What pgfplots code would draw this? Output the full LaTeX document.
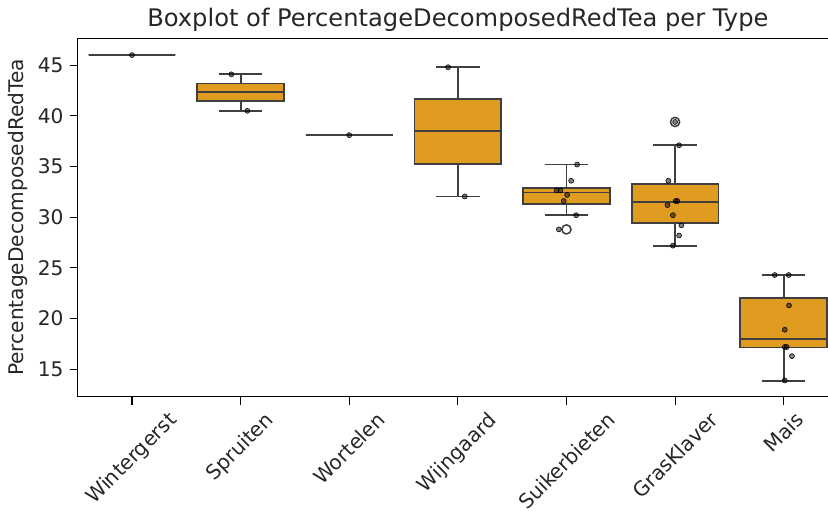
\documentclass[border=0pt]{standalone}
\usepackage{pgfplots}
\pgfplotsset{compat=1.18}
\usepackage{fontspec}
\setmainfont{DejaVu Sans}
\usepackage{graphicx}
\definecolor{boxorange}{HTML}{DF9C20}
\definecolor{boxgray}{HTML}{3F3F3F}
\pgfplotsset{
  wh/.style={draw=boxgray, line width=1.3pt, mark=none, unbounded coords=jump},
  bx/.style={draw=boxgray, fill=boxorange, line width=1.3pt, mark=none},
  md/.style={draw=boxgray, line width=1.3pt, mark=none},
  outl/.style={only marks, mark=*, mark size=3.3pt, mark options={draw=boxgray, fill=white, line width=1.1pt}},
  dots/.style={only marks, mark=*, mark size=1.8pt, mark options={draw=none, fill=black, fill opacity=0.5}},
}
\begin{document}
\begin{tikzpicture}
\begin{axis}[
  name=ax, scale only axis, width=547.4pt, height=258pt,
  xmin=-0.5, xmax=6.5, ymin=12.3, ymax=47.65,
  axis line style={line width=1.1pt},
  tick align=outside, tick pos=left,
  major tick length=5.8pt,
  tick style={black, line width=0.8pt},
  xtick={0,1,2,3,4,5,6},
  xticklabels={\rotatebox{45}{Wintergerst},\rotatebox{45}{Spruiten},\rotatebox{45}{Wortelen},\rotatebox{45}{Wijngaard},\rotatebox{45}{Suikerbieten},\rotatebox{45}{GrasKlaver},\rotatebox{45}{Mais}},
  ytick={15,20,25,30,35,40,45},
  /pgf/number format/assume math mode=true,
  every tick label/.append style={font=\fontsize{14.5}{17}\selectfont, text=black!85},
  xticklabel style={anchor=north, inner sep=0pt, yshift=-4pt},
  yticklabel style={anchor=east, inner sep=0pt, xshift=-4.3pt},
  title={Boxplot of PercentageDecomposedRedTea per Type},
  title style={font=\fontsize{17.4}{20}\selectfont, at={(0.5,1)}, anchor=base, yshift=2.4pt, text=black!85},
  ylabel={PercentageDecomposedRedTea},
  ylabel style={at={(axis description cs:-0.0791,0.5)}, anchor=center, font=\fontsize{14.5}{17}\selectfont, text=black!85},
]
% whiskers and caps: cap(upper) | whisker(upper) | whisker(lower) | cap(lower)
\addplot[wh] coordinates {(-0.2,46.0) (0.2,46.0) (0,nan) (0,46.0) (0,46.0) (0,nan) (0,46.0) (0,46.0) (0,nan) (-0.2,46.0) (0.2,46.0)};
\addplot[wh] coordinates {(0.8,44.1) (1.2,44.1) (1,nan) (1,44.1) (1,43.2) (1,nan) (1,41.5) (1,40.5) (1,nan) (0.8,40.5) (1.2,40.5)};
\addplot[wh] coordinates {(1.8,38.1) (2.2,38.1) (2,nan) (2,38.1) (2,38.1) (2,nan) (2,38.1) (2,38.1) (2,nan) (1.8,38.1) (2.2,38.1)};
\addplot[wh] coordinates {(2.8,44.8) (3.2,44.8) (3,nan) (3,44.8) (3,41.65) (3,nan) (3,35.25) (3,32.05) (3,nan) (2.8,32.05) (3.2,32.05)};
\addplot[wh] coordinates {(3.8,35.2) (4.2,35.2) (4,nan) (4,35.2) (4,32.9) (4,nan) (4,31.3) (4,30.2) (4,nan) (3.8,30.2) (4.2,30.2)};
\addplot[wh] coordinates {(4.8,37.1) (5.2,37.1) (5,nan) (5,37.1) (5,33.25) (5,nan) (5,29.45) (5,27.15) (5,nan) (4.8,27.15) (5.2,27.15)};
\addplot[wh] coordinates {(5.8,24.3) (6.2,24.3) (6,nan) (6,24.3) (6,22.0) (6,nan) (6,17.15) (6,13.85) (6,nan) (5.8,13.85) (6.2,13.85)};
% boxes (lower quartile to upper quartile)
\addplot[bx] coordinates {(-0.4,46.0) (0.4,46.0) (0.4,46.0) (-0.4,46.0)} -- cycle;
\addplot[bx] coordinates {(0.6,41.5) (1.4,41.5) (1.4,43.2) (0.6,43.2)} -- cycle;
\addplot[bx] coordinates {(1.6,38.1) (2.4,38.1) (2.4,38.1) (1.6,38.1)} -- cycle;
\addplot[bx] coordinates {(2.6,35.25) (3.4,35.25) (3.4,41.65) (2.6,41.65)} -- cycle;
\addplot[bx] coordinates {(3.6,31.3) (4.4,31.3) (4.4,32.9) (3.6,32.9)} -- cycle;
\addplot[bx] coordinates {(4.6,29.45) (5.4,29.45) (5.4,33.25) (4.6,33.25)} -- cycle;
\addplot[bx] coordinates {(5.6,17.15) (6.4,17.15) (6.4,22.0) (5.6,22.0)} -- cycle;
% medians
\addplot[md] coordinates {(-0.4,46.0) (0.4,46.0)};
\addplot[md] coordinates {(0.6,42.35) (1.4,42.35)};
\addplot[md] coordinates {(1.6,38.1) (2.4,38.1)};
\addplot[md] coordinates {(2.6,38.5) (3.4,38.5)};
\addplot[md] coordinates {(3.6,32.45) (4.4,32.45)};
\addplot[md] coordinates {(4.6,31.5) (5.4,31.5)};
\addplot[md] coordinates {(5.6,18.0) (6.4,18.0)};
% outliers
\addplot[outl] coordinates {(4,28.8) (5,39.4)};
% individual observations
\addplot[dots] coordinates {
(0,46.0)
(0.915,44.1) (1.062,40.5)
(2.0,38.1)
(2.91,44.8) (3.064,32.05)
(4.098,35.2) (4.043,33.6) (3.91,32.65) (3.945,32.65) (4.006,32.2) (3.975,31.6) (4.089,30.2) (3.93,28.8)
(5.037,37.1) (4.938,33.6) (5.006,31.6) (5.02,31.6) (4.93,31.2) (4.98,30.2) (5.058,29.2) (5.037,28.2) (4.98,27.2) (5.0,39.4)
(5.917,24.3) (6.046,24.3) (6.049,21.3) (6.01,18.9) (6.028,17.2) (6.01,17.2) (6.076,16.3) (6.01,13.9)
};
\end{axis}
\pgfresetboundingbox
\path[use as bounding box] ([shift={(-55.94pt,-85.18pt)}]ax.south west) rectangle ([shift={(540.2pt,285.6pt)}]ax.south west);
\end{tikzpicture}
\end{document}
